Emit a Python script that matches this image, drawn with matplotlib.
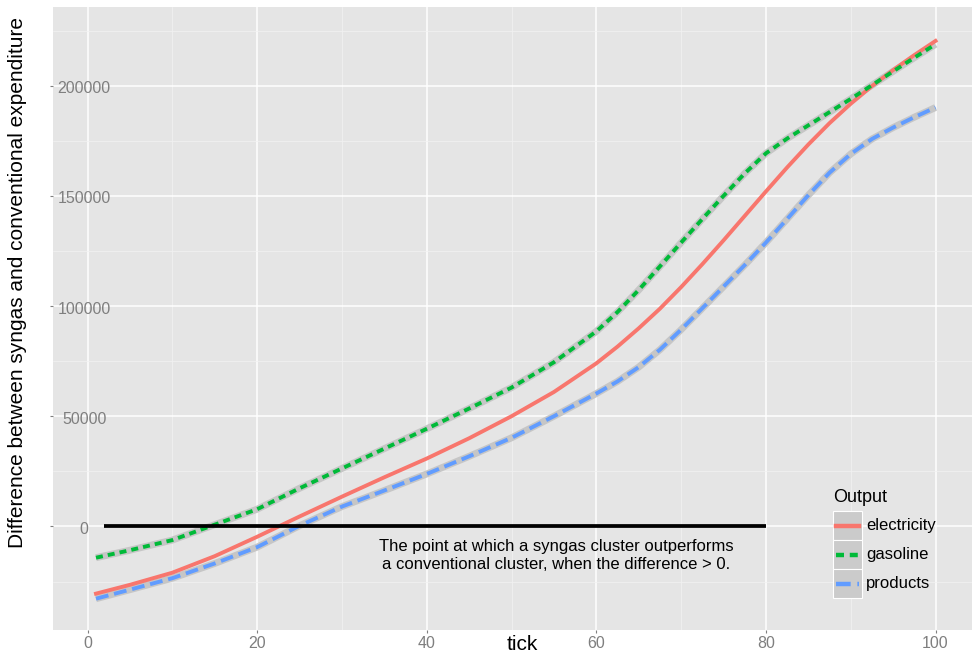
import matplotlib
matplotlib.use("Agg")
import matplotlib.pyplot as plt
from matplotlib.lines import Line2D
from matplotlib.patches import Rectangle
from matplotlib.transforms import ScaledTranslation

plt.rcParams['font.family'] = ['Liberation Sans', 'DejaVu Sans']

# smoothed curves
tick = [1, 5, 10, 15, 20, 25, 30, 35, 40, 45, 50, 55, 60, 62.5, 65, 67.5, 70, 72.5, 75,
        77.5, 80, 82.5, 85, 87.5, 90, 92.5, 95, 97.5, 100]
electricity = [-30500, -26500, -21000, -13500, -4700, 4500, 13500, 22300, 30800, 40000, 50000,
               61000, 74000, 81600, 89900, 98800, 108600, 119000, 129800, 140900, 152000,
               162900, 173300, 183000, 191800, 199800, 207100, 213900, 220300]
gasoline = [-14200, -10800, -6200, 800, 7800, 17300, 26300, 35300, 44300, 53500, 63000,
            74500, 88500, 97300, 107300, 118000, 128800, 139500, 150000, 160200, 169300,
            176000, 182000, 188000, 194000, 200200, 206500, 212700, 218800]
products = [-32800, -28700, -23500, -16800, -9400, 300, 9000, 16300, 23800, 31800, 40200,
            50000, 60300, 65800, 72300, 80200, 89300, 99000, 108800, 118600, 128800,
            139500, 150300, 160500, 169000, 175800, 181000, 185700, 190100]

series_names = ['electricity', 'gasoline', 'products']
colors = ['#F8766D', '#00BA38', '#619CFF']

note = "The point at which a syngas cluster outperforms\na conventional cluster, when the difference > 0."


def fx(px):
    return px / 972


def fy(py):
    return 1 - py / 655


fig = plt.figure(figsize=(9.72, 6.55), dpi=100)
ax = fig.add_axes([fx(53), fy(630), (972 - 53) / 972, (630 - 7) / 655])
ax.set_facecolor('#E5E5E5')
for s in ax.spines.values():
    s.set_visible(False)

ax.set_xlim(-4.07, 104.3)
ax.set_ylim(-47000, 235700)

ax.set_xticks([0, 20, 40, 60, 80, 100])
ax.set_xticks([10, 30, 50, 70, 90], minor=True)
ax.set_yticks([0, 50000, 100000, 150000, 200000])
ax.set_yticks([-25000, 25000, 75000, 125000, 175000, 225000], minor=True)
ax.grid(which='major', color='white', linewidth=1.1)
ax.grid(which='minor', color='#F2F2F2', linewidth=0.5)
ax.set_axisbelow(True)

ax.tick_params(axis='both', which='major', colors='#7F7F7F', labelsize=11.5, length=2.5, width=0.8)
ax.tick_params(axis='both', which='minor', length=0)
ax.tick_params(axis='x', pad=2)
ax.tick_params(axis='y', pad=-25)
shift = ScaledTranslation(0, -3 / 100, fig.dpi_scale_trans)
for lab in ax.get_yticklabels():
    lab.set_ha('center')
    lab.set_va('center')
    lab.set_transform(lab.get_transform() + shift)

# grey confidence band look + lines
data = [electricity, gasoline, products]
styles = ['-', (0, (1.8, 1.3)), (0, (3.3, 1.5))]
bands = [False, True, True]
for vals, c, ls, band in zip(data, colors, styles, bands):
    if band:
        ax.plot(tick, vals, color='#C6C6C6', linewidth=5.0, solid_capstyle='butt', zorder=2)
    ax.plot(tick, vals, color=c, linewidth=2.8, linestyle=ls, zorder=3)

ax.hlines(0, 2, 80, color='black', linewidth=2.7, zorder=4)
ax.text(55.3, -13200, note, ha='center', va='center', fontsize=12, linespacing=1.25, zorder=5)

# legend drawn by hand, ggplot style keys
fig.text(fx(833), fy(497), 'Output', ha='left', va='center', fontsize=13)
for i, (name, c, ls) in enumerate(zip(series_names, colors, styles)):
    top = 511 + 29 * i
    fig.add_artist(Rectangle((fx(833), fy(top + 29)), 29 / 972, 29 / 655, transform=fig.transFigure,
                             facecolor='#CBCBCB', edgecolor='white', linewidth=0.8))
    fig.add_artist(Line2D([fx(836), fx(859)], [fy(top + 14.5)] * 2, transform=fig.transFigure,
                          color=c, linewidth=3.2, linestyle=ls))
    fig.text(fx(866), fy(top + 14.5), name, ha='left', va='center', fontsize=12)

fig.text(fx(522), fy(645), 'tick', ha='center', va='center', fontsize=15)
fig.text(fx(18), fy(283), 'Difference between syngas and conventional expenditure',
         ha='center', va='center', rotation=90, fontsize=15)

fig.savefig('out.png', dpi=100)
